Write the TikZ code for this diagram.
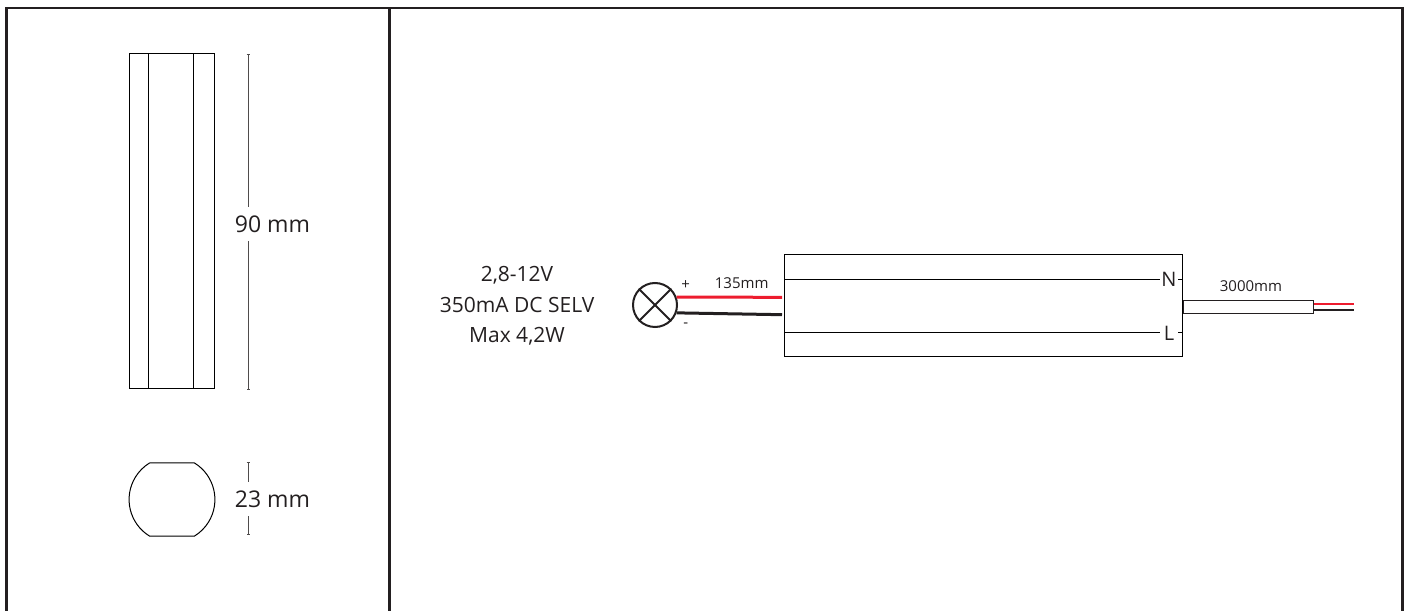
\documentclass[tikz,border=0pt]{standalone}
\usepackage{fontspec}
\setmainfont{Open Sans}
\usetikzlibrary{arrows.meta,positioning}
\definecolor{inkblack}{HTML}{231F20}
\definecolor{wirered}{HTML}{ED1C2E}
\begin{document}
\begin{tikzpicture}[x=1pt,y=1pt,
every node/.style = {align=center, text=inkblack, inner sep=0pt},
frameline/.style={inkblack,line width=2.5pt},
thinline/.style={black,line width=1pt},
dimline/.style={inkblack!80,line width=0.9pt},
wire/.style={line width=3pt},
bigtext/.style={font=\fontsize{21}{30.5}\selectfont},
midtext/.style={font=\fontsize{23}{28}\selectfont, text height=17pt, text depth=0pt, minimum height=33pt},
smalltext/.style={font=\fontsize{15}{18}\selectfont},
termtext/.style={font=\fontsize{20}{24}\selectfont, minimum width=18pt}]
\useasboundingbox (0,0) rectangle (1404,610);

% frame
\draw [frameline] (6.5,-2) -- (6.5,602) -- (1402.7,602) -- (1402.7,-2);
\draw [frameline] (389.5,602) -- (389.5,-2);

% profile
\node (profile) [draw, thinline, minimum width=85.5pt, minimum height=335pt] at (172.2,388.5) {};
\draw [thinline] ([xshift=20pt]profile.north west) -- ([xshift=20pt]profile.south west);
\draw [thinline] ([xshift=65pt]profile.north west) -- ([xshift=65pt]profile.south west);
\coordinate (d90t) at (248,556);
\coordinate (d90b) at (248,220);
\node (d90) [midtext] at (272.5,386) {90 mm};
\draw [dimline,{Bar[width=3pt]}-] (d90t) -- (d90t |- d90.north);
\draw [dimline,{Bar[width=3pt]}-] (d90b) -- (d90b |- d90.south);

% end cap
\coordinate (cap) at (149.5,147);
\draw [thinline] (cap) -- ++(45,0) arc (58.4:-58.4:42.9) -- ++(-45,0) arc (238.4:121.6:42.9);
\coordinate (d23t) at (248,147.5);
\coordinate (d23b) at (248,75);
\node (d23) [midtext] at (272.5,111) {23 mm};
\draw [dimline,{Bar[width=3pt]}-] (d23t) -- (d23t |- d23.north);
\draw [dimline,{Bar[width=3pt]}-] (d23b) -- (d23b |- d23.south);

% lamp side
\node (rating) [bigtext] at (517,304) {2,8-12V\\350mA DC SELV\\Max 4,2W};
\node (lamp) [draw=inkblack, circle, line width=2pt, minimum size=44pt] at (655,305) {};
\draw [inkblack,line width=2pt] (lamp.45) -- (lamp.225);
\draw [inkblack,line width=2pt] (lamp.135) -- (lamp.315);
\node (plus) [smalltext] at (685.7,325) {+};
\node (minus) [smalltext] at (685.7,285) {-};
\node (len135) [smalltext] at (741.7,327) {135mm};

% driver
\node (driver) [draw, thinline, minimum width=397.6pt, minimum height=102pt] at (983.5,304) {};
\coordinate (redend) at (782,312.7);
\coordinate (blackend) at (782,295.3);
\draw [wire,wirered] (lamp.20) -- (redend);
\draw [wire,inkblack] (lamp.-20) -- (blackend);
\node (termN) [termtext] at (1169,330.5) {N};
\node (termL) [termtext] at (1169,277) {L};
\draw [thinline] (driver.west |- termN) -- (termN);
\draw [thinline] (termN) -- (driver.east |- termN);
\draw [thinline] (driver.west |- termL) -- (termL);
\draw [thinline] (termL) -- (driver.east |- termL);

% mains cable
\node (cable) [draw=inkblack, line width=1.5pt, minimum width=130.4pt, minimum height=13pt] at (1248.5,303.2) {};
\node (len3000) [smalltext] at (1251,324) {3000mm};
\coordinate (redtail) at (1354,306);
\coordinate (blacktail) at (1354,300);
\draw [line width=2.5pt,wirered] (cable.east |- redtail) -- (redtail);
\draw [line width=2.5pt,inkblack] (cable.east |- blacktail) -- (blacktail);
\end{tikzpicture}
\end{document}
